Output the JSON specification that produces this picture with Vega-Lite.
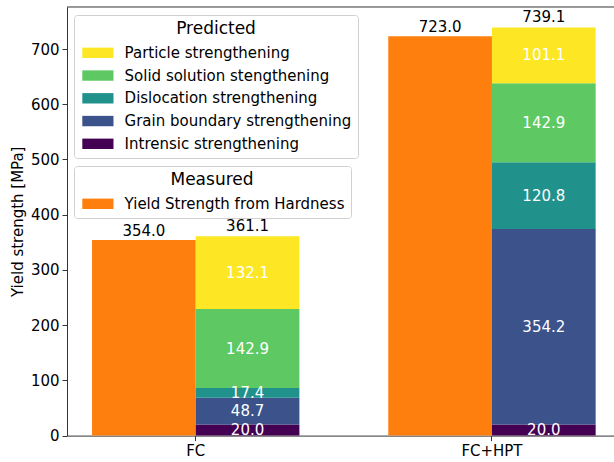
{
  "$schema": "https://vega.github.io/schema/vega-lite/v6.json",
  "width": 547,
  "height": 428.6,
  "autosize": {"type": "none"},
  "padding": {"left": 67, "top": 7, "right": 0, "bottom": 26},
  "background": "white",
  "config": {
    "font": "DejaVu Sans",
    "view": {"stroke": null},
    "axis": {
      "labelFont": "DejaVu Sans", "labelFontSize": 15, "labelColor": "#000",
      "titleFont": "DejaVu Sans", "titleFontSize": 15, "titleFontWeight": "normal", "titleColor": "#000",
      "domainColor": "#333", "domainWidth": 1, "tickColor": "#333", "tickSize": 5, "tickWidth": 1, "grid": false
    },
    "legend": {
      "strokeColor": "#d0d0d0", "fillColor": "white", "cornerRadius": 3, "padding": 6,
      "titleFont": "DejaVu Sans", "titleFontSize": 17, "titleFontWeight": "normal", "titleColor": "#000", "titleAnchor": "middle",
      "labelFont": "DejaVu Sans", "labelFontSize": 15, "labelColor": "#000", "labelLimit": 400,
      "symbolType": "M-1,-1H5V1H-1Z", "symbolSize": 108, "symbolStrokeWidth": 0, "symbolOpacity": 1,
      "labelOffset": 29.6, "rowPadding": 6.75, "titlePadding": 7.3
    }
  },
  "datasets": {
    "measured": [
      {"group": "FC", "kind": "Measured", "component": "Yield Strength from Hardness", "value": 354.0},
      {"group": "FC+HPT", "kind": "Measured", "component": "Yield Strength from Hardness", "value": 723.0}
    ],
    "predicted": [
      {"group": "FC", "kind": "Predicted", "component": "Intrensic strengthening", "level": 1, "value": 20.0},
      {"group": "FC", "kind": "Predicted", "component": "Grain boundary strengthening", "level": 2, "value": 48.7},
      {"group": "FC", "kind": "Predicted", "component": "Dislocation strengthening", "level": 3, "value": 17.4},
      {"group": "FC", "kind": "Predicted", "component": "Solid solution stengthening", "level": 4, "value": 142.9},
      {"group": "FC", "kind": "Predicted", "component": "Particle strengthening", "level": 5, "value": 132.1},
      {"group": "FC+HPT", "kind": "Predicted", "component": "Intrensic strengthening", "level": 1, "value": 20.0},
      {"group": "FC+HPT", "kind": "Predicted", "component": "Grain boundary strengthening", "level": 2, "value": 354.2},
      {"group": "FC+HPT", "kind": "Predicted", "component": "Dislocation strengthening", "level": 3, "value": 120.8},
      {"group": "FC+HPT", "kind": "Predicted", "component": "Solid solution stengthening", "level": 4, "value": 142.9},
      {"group": "FC+HPT", "kind": "Predicted", "component": "Particle strengthening", "level": 5, "value": 101.1}
    ],
    "totals": [
      {"group": "FC", "kind": "Predicted", "value": 361.1},
      {"group": "FC+HPT", "kind": "Predicted", "value": 739.1}
    ]
  },
  "layer": [
    {
      "data": {"name": "measured"},
      "mark": {"type": "bar"},
      "encoding": {
        "x": {"field": "group", "type": "nominal",
          "scale": {"domain": ["FC", "FC+HPT"], "paddingInner": 0.3, "paddingOuter": 0.0732, "align": 0.577},
          "axis": {"title": null, "labelAngle": 0, "labelPadding": 3}},
        "xOffset": {"field": "kind", "type": "nominal", "scale": {"domain": ["Measured", "Predicted"], "paddingInner": 0, "paddingOuter": 0}},
        "y": {"field": "value", "type": "quantitative",
          "scale": {"domain": [0, 776.06], "nice": false, "zero": true},
          "axis": {"title": "Yield strength [MPa]", "values": [0, 100, 200, 300, 400, 500, 600, 700], "labelPadding": 3, "titlePadding": 5}},
        "color": {"field": "component", "type": "nominal",
          "scale": {"domain": ["Yield Strength from Hardness"], "range": ["#ff7f0e"]},
          "legend": {"title": "Measured", "orient": "none", "legendX": 7, "legendY": 159, "symbolType": "M-1,-1H5V1H-1Z"}}
      }
    },
    {
      "data": {"name": "predicted"},
      "mark": {"type": "bar"},
      "encoding": {
        "x": {"field": "group", "type": "nominal"},
        "xOffset": {"field": "kind", "type": "nominal"},
        "y": {"field": "value", "type": "quantitative", "stack": "zero"},
        "order": {"field": "level", "type": "quantitative", "sort": "ascending"},
        "color": {"field": "component", "type": "nominal",
          "scale": {"domain": ["Particle strengthening", "Solid solution stengthening", "Dislocation strengthening", "Grain boundary strengthening", "Intrensic strengthening"],
                    "range": ["#fde725", "#5ec962", "#21918c", "#3b528b", "#440154"]},
          "legend": {"title": "Predicted", "orient": "none", "legendX": 7, "legendY": 8, "symbolType": "M-1,-1H5V1H-1Z"}}
      }
    },
    {
      "data": {"name": "predicted"},
      "mark": {"type": "text", "color": "white", "fontSize": 15, "baseline": "middle", "align": "center"},
      "encoding": {
        "x": {"field": "group", "type": "nominal"},
        "xOffset": {"field": "kind", "type": "nominal"},
        "y": {"field": "value", "type": "quantitative", "stack": "zero", "bandPosition": 0.5},
        "detail": {"field": "component", "type": "nominal"},
        "order": {"field": "level", "type": "quantitative", "sort": "ascending"},
        "text": {"field": "value", "type": "quantitative", "format": ".1f"}
      }
    },
    {
      "data": {"name": "measured"},
      "mark": {"type": "text", "color": "black", "fontSize": 15, "baseline": "alphabetic", "align": "center", "dy": -4},
      "encoding": {
        "x": {"field": "group", "type": "nominal"},
        "xOffset": {"field": "kind", "type": "nominal"},
        "y": {"field": "value", "type": "quantitative"},
        "text": {"field": "value", "type": "quantitative", "format": ".1f"}
      }
    },
    {
      "data": {"name": "totals"},
      "mark": {"type": "text", "color": "black", "fontSize": 15, "baseline": "alphabetic", "align": "center", "dy": -5.5},
      "encoding": {
        "x": {"field": "group", "type": "nominal"},
        "xOffset": {"field": "kind", "type": "nominal"},
        "y": {"field": "value", "type": "quantitative"},
        "text": {"field": "value", "type": "quantitative", "format": ".1f"}
      }
    },
    {
      "data": {"values": [{"edge": "top"}]},
      "mark": {"type": "rule", "color": "#333", "strokeWidth": 1},
      "encoding": {"y": {"datum": 776.06, "type": "quantitative"}}
    }
  ],
  "resolve": {"scale": {"color": "independent"}}
}
